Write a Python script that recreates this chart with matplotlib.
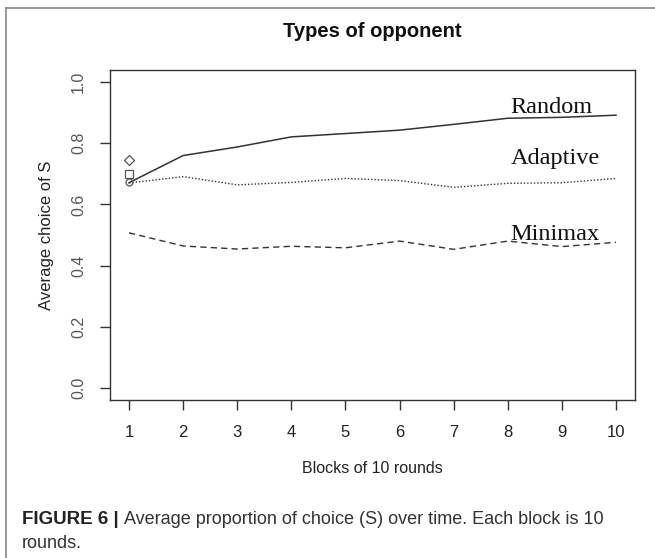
import matplotlib
matplotlib.use('Agg')
import matplotlib.pyplot as plt
from matplotlib.lines import Line2D

blocks = [1, 2, 3, 4, 5, 6, 7, 8, 9, 10]
random_opp = [0.671, 0.760, 0.788, 0.821, 0.832, 0.843, 0.862, 0.882, 0.885, 0.892]
adaptive_opp = [0.670, 0.691, 0.664, 0.672, 0.685, 0.678, 0.656, 0.669, 0.671, 0.685]
minimax_opp = [0.507, 0.464, 0.454, 0.463, 0.458, 0.480, 0.453, 0.480, 0.462, 0.476]

# starting points drawn as open symbols at block 1
start_diamond = 0.744
start_square = 0.701
start_circle = 0.672

labels = ['Random', 'Adaptive', 'Minimax']
label_y = [0.900, 0.733, 0.484]
yticks = [0.0, 0.2, 0.4, 0.6, 0.8, 1.0]

ink = '#333333'

fig = plt.figure(figsize=(6.55, 5.58), dpi=100)
ax = fig.add_axes([0.1672, 0.2832, 0.803, 0.5914])

ax.plot(blocks, random_opp, color=ink, lw=1.1, ls='-')
ax.plot(blocks, adaptive_opp, color=ink, lw=1.0, ls=(0, (1, 1.4)))
ax.plot(blocks, minimax_opp, color=ink, lw=1.0, ls=(0, (4.5, 3)))

ax.plot([1], [start_diamond], marker='D', ms=5.5, mfc='none', mec='#555555', mew=0.9)
ax.plot([1], [start_square], marker='s', ms=5.5, mfc='none', mec='#555555', mew=0.9)
ax.plot([1], [start_circle], marker='o', ms=5, mfc='none', mec='#555555', mew=0.9)

for lab, y in zip(labels, label_y):
    ax.text(8.05, y, lab, family='Liberation Serif', fontsize=17.5, color='#111111',
            ha='left', va='baseline')

ax.set_xlim(0.64, 10.36)
ax.set_ylim(-0.04, 1.04)
ax.set_xticks(blocks)
ax.set_yticks(yticks)
ax.set_xticklabels([str(b) for b in blocks], family='Liberation Sans', fontsize=12, color='#222222')
ax.set_yticklabels(['%.1f' % v for v in yticks], family='Liberation Sans', fontsize=11.5,
                   color='#555555', rotation=90, va='center')
ax.tick_params(axis='both', direction='out', length=7, width=1, color=ink)
ax.tick_params(axis='x', pad=11)
ax.tick_params(axis='y', pad=10)
for sp in ax.spines.values():
    sp.set_color(ink)
    sp.set_linewidth(1.0)

ax.set_title('Types of opponent', family='Liberation Sans', fontweight='bold', fontsize=14.5,
             color='#111111', pad=24)
ax.set_xlabel('Blocks of 10 rounds', family='Liberation Sans', fontsize=11.5, color='#222222',
              labelpad=15)
ax.set_ylabel('Average choice of S', family='Liberation Sans', fontsize=12, color='#222222',
              labelpad=12)

# caption below the plot: bold lead-in, then the sentence right after it
cap_y = 1 - 520 / 558
lead = fig.text(22 / 655, cap_y, 'FIGURE 6 |', family='Liberation Sans', fontweight='bold',
                fontsize=13.5, color='#222222', va='center', ha='left')
fig.canvas.draw()
lead_end = lead.get_window_extent().x1
fig.text((lead_end + 5) / 655, cap_y,
         'Average proportion of choice (S) over time. Each block is 10',
         family='Liberation Sans', fontsize=13, color='#333333', va='center', ha='left')
fig.text(22 / 655, 1 - 543 / 558, 'rounds.', family='Liberation Sans', fontsize=13,
         color='#333333', va='center', ha='left')

# figure frame (left and top edges)
fig.add_artist(Line2D([6 / 655, 6 / 655], [0, 1 - 8 / 558], color='#888888', lw=1.2))
fig.add_artist(Line2D([6 / 655, 1], [1 - 8 / 558, 1 - 8 / 558], color='#888888', lw=1.2))

fig.savefig('out.png', dpi=100)
